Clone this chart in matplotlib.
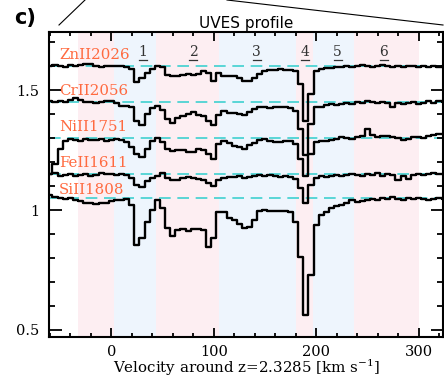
import numpy as np
import matplotlib.pyplot as plt
from matplotlib.lines import Line2D
from matplotlib.ticker import MultipleLocator

plt.rcParams['mathtext.fontset'] = 'dejavuserif'

# velocity grid (km/s) and normalised flux of each transition
vel = np.arange(-60, 326, 5)

flux_zn = [1.000, 1.004, 1.000, 0.996, 1.004, 1.000, 1.004, 1.008, 1.008, 1.000, 0.996, 1.000, 1.000, 1.000, 1.000, 0.996,
           0.988, 0.933, 0.950, 0.971, 0.988, 1.000, 0.996, 0.963, 0.958, 0.958, 0.963, 0.967, 0.963, 0.967, 0.979, 0.971,
           0.938, 0.971, 0.958, 0.958, 0.958, 0.950, 0.938, 0.938, 0.950, 0.967, 0.979, 0.983, 0.983, 0.988, 0.983, 0.983,
           0.979, 0.925, 0.771, 0.883, 0.979, 0.988, 0.992, 0.992, 0.996, 0.996, 1.000, 0.996, 1.000, 1.004, 1.000, 0.996,
           1.000, 1.004, 1.000, 0.996, 1.000, 0.996, 1.000, 1.000, 0.996, 1.000, 0.996, 1.000, 0.996, 1.000]
flux_cr = [1.004, 1.000, 1.004, 1.000, 1.008, 1.017, 1.008, 1.000, 1.000, 0.996, 1.000, 1.004, 1.004, 0.996, 0.983, 0.983,
           0.979, 0.921, 0.904, 0.950, 0.975, 0.983, 0.967, 0.929, 0.913, 0.933, 0.942, 0.950, 0.958, 0.946, 0.942, 0.921,
           0.904, 0.946, 0.963, 0.954, 0.954, 0.950, 0.946, 0.958, 0.971, 0.979, 0.979, 0.975, 0.979, 0.979, 0.979, 0.975,
           0.963, 0.888, 0.779, 0.908, 0.979, 0.979, 0.988, 0.992, 0.988, 0.992, 0.996, 0.992, 1.000, 0.996, 1.004, 1.000,
           0.996, 1.000, 0.996, 0.979, 0.996, 0.992, 0.996, 1.000, 0.992, 0.996, 1.004, 0.996, 1.004, 1.000]
flux_ni = [0.850, 0.892, 0.954, 0.988, 0.996, 0.992, 0.988, 0.996, 0.992, 0.992, 0.996, 0.988, 0.992, 0.996, 0.992, 0.983,
           0.963, 0.933, 0.921, 0.954, 0.988, 1.000, 0.983, 0.954, 0.946, 0.950, 0.950, 0.942, 0.942, 0.954, 0.950, 0.933,
           0.913, 0.975, 0.988, 0.979, 0.967, 0.963, 0.954, 0.971, 0.979, 0.992, 0.996, 0.988, 0.983, 0.983, 0.988, 0.988,
           0.975, 0.913, 0.842, 0.933, 0.983, 0.988, 0.988, 0.992, 0.996, 1.004, 1.000, 0.996, 1.004, 1.008, 1.038, 1.013,
           1.004, 1.008, 1.008, 1.004, 1.000, 0.992, 0.996, 1.004, 1.004, 1.000, 1.008, 1.013, 1.017, 1.017]
flux_fe = [1.000, 1.004, 0.992, 0.996, 1.000, 0.992, 0.996, 1.000, 0.992, 0.996, 1.004, 1.000, 1.000, 0.996, 1.000, 0.996,
           0.983, 0.954, 0.946, 0.971, 0.983, 0.992, 1.004, 0.983, 0.975, 0.975, 0.983, 0.988, 0.983, 0.979, 0.975, 0.963,
           0.950, 0.975, 0.983, 0.988, 0.988, 0.992, 0.983, 0.988, 0.992, 0.996, 0.992, 0.996, 0.992, 0.988, 0.992, 0.988,
           0.979, 0.942, 0.879, 0.954, 0.983, 0.992, 0.988, 0.992, 0.996, 0.992, 0.996, 1.000, 0.996, 0.992, 1.000, 0.996,
           1.004, 0.992, 1.000, 0.996, 0.975, 0.992, 0.979, 0.996, 1.000, 0.996, 1.000, 1.004, 1.000, 1.000]
flux_si = [1.013, 1.004, 1.000, 0.996, 1.000, 0.992, 0.988, 0.979, 0.979, 0.975, 0.979, 0.979, 0.988, 0.992, 0.992, 0.996,
           0.971, 0.804, 0.833, 0.900, 0.950, 0.992, 0.958, 0.875, 0.842, 0.867, 0.871, 0.863, 0.871, 0.871, 0.867, 0.796,
           0.833, 0.942, 0.942, 0.917, 0.908, 0.892, 0.875, 0.879, 0.908, 0.946, 0.950, 0.946, 0.946, 0.946, 0.946, 0.942,
           0.900, 0.754, 0.513, 0.679, 0.888, 0.929, 0.942, 0.958, 0.967, 0.971, 0.979, 0.992, 0.983, 0.988, 0.992, 0.996,
           0.992, 1.000, 0.996, 1.004, 0.996, 0.992, 1.000, 0.996, 1.000, 0.996, 0.992, 0.996, 1.000, 0.996]

ions = ['ZnII2026', 'CrII2056', 'NiII1751', 'FeII1611', 'SiII1808']
spectra = [flux_zn, flux_cr, flux_ni, flux_fe, flux_si]
offsets = [0.60, 0.45, 0.30, 0.15, 0.05]
label_y = [1.646, 1.496, 1.346, 1.196, 1.083]

# velocity components
edges = [-33, 3, 44, 105, 180, 197, 237, 300]
comp_names = ['1', '2', '3', '4', '5', '6']
comp_pos = [31, 80, 142, 189, 221, 266]
comp_y = 1.66

fig = plt.figure(figsize=(4.44, 3.83), dpi=100)
ax = fig.add_axes([0.110, 0.120, 0.888, 0.796])

shade = ['#fdeef2', '#eef5fd']
for i in range(len(edges) - 1):
    ax.axvspan(edges[i], edges[i + 1], color=shade[i % 2], lw=0, zorder=0)

for f, off in zip(spectra, offsets):
    ax.axhline(off + 1, color='#3fd0d0', lw=1.2, dashes=(7, 4), zorder=1)
    ax.step(vel, np.array(f) + off, where='mid', color='k', lw=1.7, zorder=2)

for name, y in zip(ions, label_y):
    ax.text(-51, y, name, color='#ff6a40', family='DejaVu Serif', fontsize=10.8,
            va='center', ha='left', zorder=3)

for name, x in zip(comp_names, comp_pos):
    ax.text(x, comp_y, name, color='#333333', family='DejaVu Serif', fontsize=10,
            ha='center', va='center', zorder=3)
    ax.plot([x - 4, x + 4], [comp_y - 0.035] * 2, color='#333333', lw=0.9, zorder=3)

ax.set_xlim(-61, 324)
ax.set_ylim(0.47, 1.742)
ax.xaxis.set_major_locator(MultipleLocator(100))
ax.xaxis.set_minor_locator(MultipleLocator(20))
ax.yaxis.set_minor_locator(MultipleLocator(0.1))
ax.set_yticks([0.5, 1.0, 1.5])
ax.set_yticklabels(['0.5', '1', '1.5'])
ax.tick_params(which='both', direction='in', top=True, right=True, width=1.3)
ax.tick_params(axis='x', which='major', length=6.5, pad=6)
ax.tick_params(axis='x', which='minor', length=3)
ax.tick_params(axis='y', which='major', length=9, pad=7)
ax.tick_params(axis='y', which='minor', length=4.5)
for lab in ax.get_xticklabels() + ax.get_yticklabels():
    lab.set_family('DejaVu Serif')
    lab.set_fontsize(10.5)
for s in ax.spines.values():
    s.set_linewidth(1.5)

ax.set_xlabel(r'Velocity around z=2.3285 [km s$^{-1}$]', family='DejaVu Serif', fontsize=10.8, labelpad=-1)
ax.set_title('UVES profile', fontsize=11, pad=3)

fig.text(0.056, 0.953, 'c)', fontsize=15, fontweight='bold', ha='center', va='center')
fig.add_artist(Line2D([59 / 444, 85 / 444], [1 - 25 / 383, 1.0], color='k', lw=0.8))
fig.add_artist(Line2D([227 / 444, 443 / 444], [1.0, 1 - 25 / 383], color='k', lw=0.8))

fig.savefig('out.png', dpi=100)
